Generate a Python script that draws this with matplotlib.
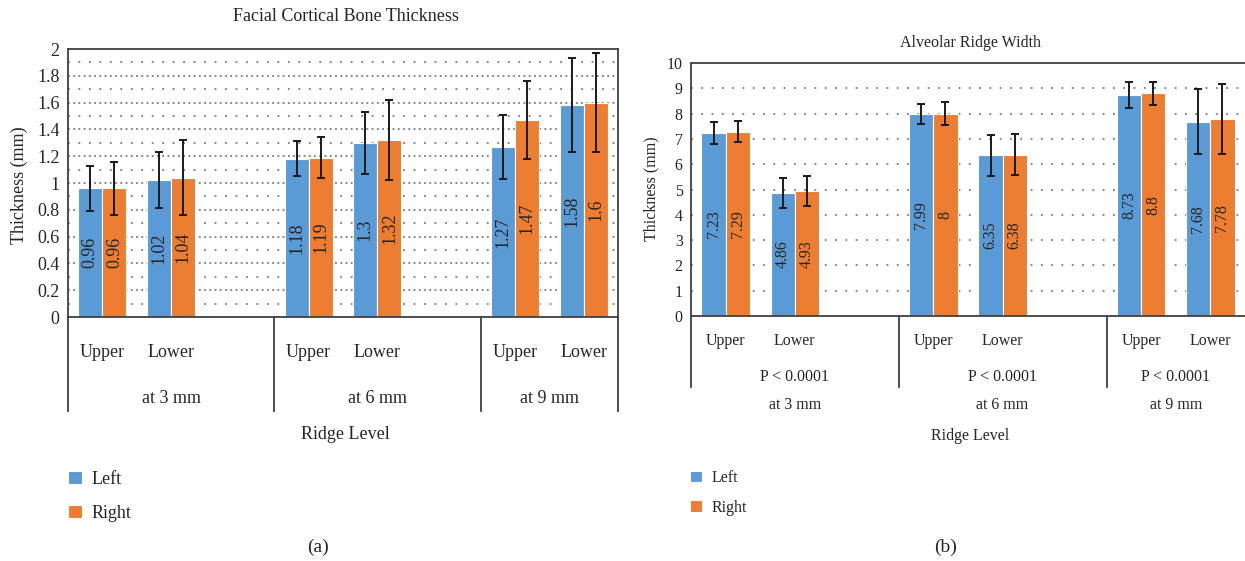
import matplotlib
matplotlib.use('Agg')
import matplotlib.pyplot as plt
from matplotlib.transforms import blended_transform_factory
import numpy as np

plt.rcParams['font.family'] = ['Liberation Serif', 'DejaVu Serif']

W, H = 1245, 561

# ---------------- data ----------------
levels = ['at 3 mm', 'at 6 mm', 'at 9 mm']
jaws = ['Upper', 'Lower']
series = ['Left', 'Right']

fcbt_left = [0.96, 1.02, 1.18, 1.30, 1.27, 1.58]
fcbt_right = [0.96, 1.04, 1.19, 1.32, 1.47, 1.60]
fcbt_left_sd = [0.17, 0.21, 0.13, 0.23, 0.24, 0.35]
fcbt_right_sd = [0.20, 0.28, 0.155, 0.30, 0.29, 0.37]

arw_left = [7.23, 4.86, 7.99, 6.35, 8.73, 7.68]
arw_right = [7.29, 4.93, 8.00, 6.38, 8.80, 7.78]
arw_left_sd = [0.44, 0.60, 0.40, 0.80, 0.52, 1.29]
arw_right_sd = [0.41, 0.60, 0.46, 0.80, 0.46, 1.38]
p_values = ['P < 0.0001', 'P < 0.0001', 'P < 0.0001']

BLUE = '#5B9BD5'
ORANGE = '#ED7D31'
SPINE = '#404040'
TXT = '#262626'
DOT = '#7a7a7a'

fig = plt.figure(figsize=(W / 100, H / 100), dpi=100)


def fy(py):
    return 1 - py / H


def fx(px):
    return px / W


def panel(ax, left, right, sdl, sdr, ymax, ystep, minor, major_dash, minor_dash, fs, lfs,
          title, title_xy, ylabel_xy, jaw_y, div_bottom, dividers, pvals, pval_y,
          level_y, ridge_xy, legend_xy, legend_space, text_pad, letter, letter_xy,
          right_spine):
    x = np.array([3 * g + j + 0.5 for g in range(len(levels)) for j in range(len(jaws))])
    bw = 0.35
    bl = ax.bar(x - bw / 2, left, bw, color=BLUE, edgecolor='white', linewidth=0.8, zorder=2)
    br = ax.bar(x + bw / 2, right, bw, color=ORANGE, edgecolor='white', linewidth=0.8, zorder=2)
    ax.errorbar(x - bw / 2, left, yerr=sdl, fmt='none', ecolor='#1a1a1a', elinewidth=1.4,
                capsize=3, capthick=1.4, zorder=3)
    ax.errorbar(x + bw / 2, right, yerr=sdr, fmt='none', ecolor='#1a1a1a', elinewidth=1.4,
                capsize=3, capthick=1.4, zorder=3)
    for xi, v in zip(x - bw / 2, left):
        ax.text(xi, v / 2, f'{v:g}', rotation=90, ha='center', va='center', fontsize=lfs,
                color=TXT, zorder=4)
    for xi, v in zip(x + bw / 2, right):
        ax.text(xi, v / 2, f'{v:g}', rotation=90, ha='center', va='center', fontsize=lfs,
                color=TXT, zorder=4)

    ax.set_xlim(0, 8)
    ax.set_ylim(0, ymax)
    for y in np.arange(ystep, ymax - ystep / 2, ystep):
        ax.axhline(y, color=DOT, lw=1.3, ls=major_dash, zorder=1)
    if minor:
        for y in np.arange(ystep / 2, ymax, ystep):
            ax.axhline(y, color=DOT, lw=1.3, ls=minor_dash, zorder=1)
    ticks = np.arange(0, ymax + ystep / 2, ystep)
    ax.set_yticks(ticks)
    ax.set_yticklabels([f'{t:g}' for t in ticks])
    ax.tick_params(axis='y', length=0, pad=6, labelsize=fs, labelcolor=TXT)
    ax.set_xticks([])
    for s in ax.spines.values():
        s.set_color(SPINE)
        s.set_linewidth(1.3)
    ax.spines['right'].set_visible(right_spine)

    trans = blended_transform_factory(ax.transData, fig.transFigure)
    bottom = ax.get_position().y0
    for xb in dividers:
        ax.plot([xb, xb], [bottom, fy(div_bottom)], transform=trans, clip_on=False,
                color=SPINE, lw=1.3)
    for g in range(len(levels)):
        for j, name in enumerate(jaws):
            ax.text(3 * g + j + 0.5, fy(jaw_y), name, transform=trans, ha='center',
                    va='baseline', fontsize=fs, color=TXT)
        ax.text(3 * g + (1 if g == 2 else 1.5), fy(level_y), levels[g], transform=trans,
                ha='center', va='baseline', fontsize=fs, color=TXT)
        if pvals is not None:
            ax.text(3 * g + (1 if g == 2 else 1.5), fy(pval_y), pvals[g], transform=trans,
                    ha='center', va='baseline', fontsize=fs, color=TXT)

    fig.text(fx(title_xy[0]), fy(title_xy[1]), title, ha='center', va='baseline',
             fontsize=fs, color=TXT)
    fig.text(fx(ylabel_xy[0]), fy(ylabel_xy[1]), 'Thickness (mm)', rotation=90,
             ha='center', va='center', fontsize=fs, color=TXT)
    fig.text(fx(ridge_xy[0]), fy(ridge_xy[1]), 'Ridge Level', ha='center', va='baseline',
             fontsize=fs, color=TXT)
    fig.legend([bl, br], series, loc='upper left',
               bbox_to_anchor=(fx(legend_xy[0]), fy(legend_xy[1])),
               frameon=False, fontsize=fs, handlelength=0.75, handleheight=0.75,
               handletextpad=text_pad, labelspacing=legend_space, borderpad=0,
               borderaxespad=0, labelcolor=TXT)
    fig.text(fx(letter_xy[0]), fy(letter_xy[1]), letter, ha='center', va='center',
             fontsize=14, color=TXT)


axL = fig.add_axes([fx(68), fy(317), 550 / W, 268 / H])
panel(axL, fcbt_left, fcbt_right, fcbt_left_sd, fcbt_right_sd, 2, 0.2, True,
      (0, (1, 1.9)), (0, (1, 4.8)),
      13, 13, 'Facial Cortical Bone Thickness', (346, 21), (19, 185), 357, 411, [0, 3, 6, 8],
      None, None, 403, (345, 439), (68, 471), 0.92, 0.58, '(a)', (318, 547), True)

axR = fig.add_axes([fx(691), fy(316), 554 / W, 253 / H])
panel(axR, arw_left, arw_right, arw_left_sd, arw_right_sd, 10, 1, False,
      (0, (1, 4.7)), None,
      11.5, 11.5, 'Alveolar Ridge Width', (970, 47), (651, 189), 345, 387, [0, 3, 6],
      p_values, 381, 409, (970, 440), (690, 470), 0.85, 0.6, '(b)', (946, 547), False)

fig.savefig('out.png', dpi=100)
